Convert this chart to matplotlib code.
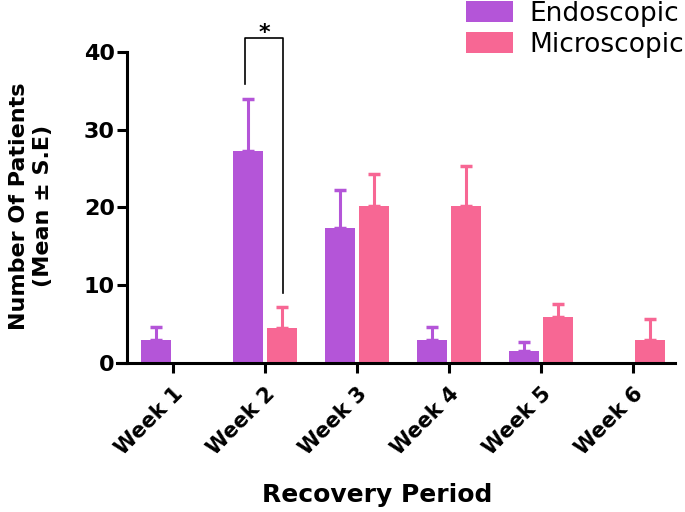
import matplotlib
matplotlib.use("Agg")
import matplotlib.pyplot as plt
import numpy as np

plt.rcParams['font.family'] = ['DejaVu Sans']

weeks = ["Week 1", "Week 2", "Week 3", "Week 4", "Week 5", "Week 6"]
endo_mean = [3.0, 27.3, 17.3, 3.0, 1.5, 0.0]
endo_err = [1.6, 6.6, 4.9, 1.6, 1.2, 0.0]
micro_mean = [0.0, 4.5, 20.2, 20.2, 5.9, 3.0]
micro_err = [0.0, 2.7, 4.1, 5.1, 1.7, 2.7]
series_names = ["Endoscopic", "Microscopic"]
c_endo = "#b455d8"
c_micro = "#f76794"

fig = plt.figure(figsize=(6.85, 5.12), dpi=100)
ax = fig.add_axes([117/685, 1-363/512, (675-117)/685, (363-51.7)/512])

x = np.arange(len(weeks))
w = 0.326
off = 0.184
for xs, m, e, c, name in [(x - off, endo_mean, endo_err, c_endo, series_names[0]),
                          (x + off, micro_mean, micro_err, c_micro, series_names[1])]:
    ax.bar(xs, m, width=w, color=c, label=name, zorder=2)
    mm = np.array(m); ee = np.array(e)
    mask = ee > 0
    ax.errorbar(xs[mask], mm[mask], yerr=[np.zeros(mask.sum()), ee[mask]], fmt='none',
                ecolor=c, elinewidth=2.2, capsize=4, capthick=2.5, zorder=1)

ax.set_xlim(-0.609, 5.457)
ax.set_ylim(0, 40)
ax.spines['top'].set_visible(False)
ax.spines['right'].set_visible(False)
ax.spines['left'].set_position(('data', -0.503))
ax.spines['left'].set_linewidth(2.2)
ax.spines['bottom'].set_linewidth(2.2)
ax.set_yticks([0, 10, 20, 30, 40])
ax.set_xticks(x)
ax.set_xticklabels(weeks, rotation=45, ha='right', rotation_mode='anchor',
                   fontsize=15, fontweight='bold')
for lab in ax.get_yticklabels():
    lab.set_fontsize(16)
    lab.set_fontweight('bold')
ax.tick_params(axis='both', width=2.2, length=7, direction='out')
ax.tick_params(axis='y', pad=1.5)
ax.tick_params(axis='x', pad=8)

ax.set_xlabel("Recovery Period", fontsize=18, fontweight='bold')
ax.xaxis.set_label_coords((377-117)/(675-117), -(502-363)/(363-51.7), transform=ax.transAxes)
ax.xaxis.label.set_va('baseline')
fig.text(31/685, 1-206/512, "Number Of Patients\n(Mean ± S.E)", rotation=90,
         ha='center', va='center', fontsize=16, fontweight='bold', linespacing=1.25)

# significance bracket
bx0, bx1 = 1 - 0.217, 1 + 0.196
ax.plot([bx0, bx0, bx1, bx1], [35.9, 41.7, 41.7, 9.0], color='black', lw=1.2, clip_on=False)
ax.text((bx0 + bx1) / 2, 42.4, "*", ha='center', va='center', fontsize=16, fontweight='bold',
        clip_on=False)

leg = fig.legend(loc='upper right', bbox_to_anchor=(0.999, 0.999), frameon=False, fontsize=19,
                 handlelength=1.78, handleheight=0.87, handletextpad=0.62, labelspacing=0.2,
                 borderpad=0.0, borderaxespad=0.0)

fig.savefig("out.png", dpi=100)
